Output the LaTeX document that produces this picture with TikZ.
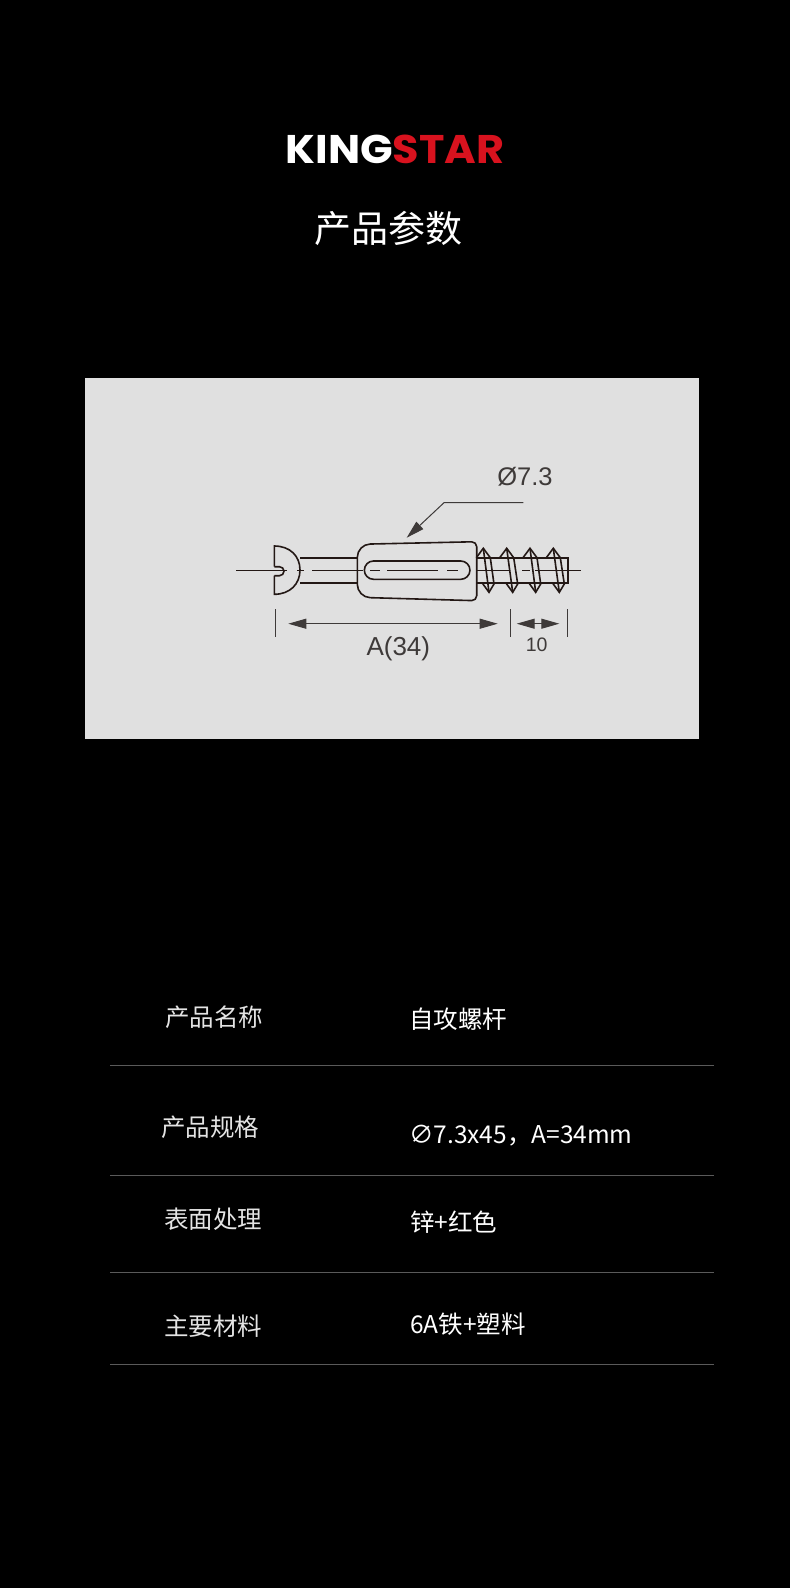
\documentclass[tikz,border=0pt]{standalone}
\usepackage{fontspec}
\usepackage{tikz}
\usetikzlibrary{arrows.meta}
\setmainfont{Liberation Sans}
\newfontfamily\cjkfont{Noto Sans CJK SC}
\newfontfamily\logofont{Poppins}[BoldFont=Poppins Bold]
\definecolor{panelgrey}{HTML}{E0E0E0}
\definecolor{partink}{HTML}{231815}
\definecolor{dimink}{HTML}{3E3A39}
\definecolor{logored}{HTML}{D8121E}
\definecolor{rowrule}{HTML}{5A5A5A}
\definecolor{keygrey}{HTML}{E4E4E4}
\tikzset{
  partline/.style={draw=partink, line width=1.6pt},
  centreline/.style={draw=partink, line width=1pt},
  dimline/.style={draw=dimink, line width=1pt},
  dimarrow/.style={dimline, {Triangle[length=18pt,width=10pt]}-{Triangle[length=18pt,width=10pt]}},
  rowtext/.style={text=white, inner sep=0pt, anchor=west, font=\cjkfont\fontsize{24.5}{24.5}\selectfont},
  rowkey/.style={rowtext, text=keygrey},
  rowrulestyle/.style={draw=rowrule, line width=1pt}
}
\begin{document}
\begin{tikzpicture}[x=1pt, y=-1pt]
\useasboundingbox (0,0) rectangle (790,1588);
\fill[black] (0,0) rectangle (790,1588);
\fill[panelgrey] (85,378) rectangle (699,739);
% logo and title
\node[inner sep=0pt, anchor=west, text=white, font=\logofont\bfseries\fontsize{40}{40}\selectfont] (LogoKing) at (285.5,149) {\scalebox{1.07}[1]{KING}};
\node[inner sep=0pt, anchor=west, text=logored, font=\logofont\bfseries\fontsize{40}{40}\selectfont] (LogoStar) at (392.5,149) {\scalebox{1.076}[1]{STAR}};
\node[inner sep=0pt, text=white, font=\cjkfont\fontsize{37}{37}\selectfont] (Title) at (388,228) {产品参数};
% bolt
\foreach \sa/\sb in {236/287, 297/304, 312/363, 370/380, 387/438, 447/458, 476/509, 522/530, 535/581}{
  \draw[centreline] (\sa,570) -- (\sb,570);
}
\draw[partline] (274.3,566.7) -- (274.3,546) .. controls (290,546) and (300,556) .. (300,570) .. controls (300,584) and (290,594.3) .. (274.3,594.3) -- (274.3,575.7);
\draw[partline] (274.3,566.7) -- (279.5,566.7) arc[start angle=90, end angle=-90, radius=4.5pt] -- (274.3,575.7);
\draw[partline] (300,557.7) -- (357.3,557.7);
\draw[partline] (300,582.7) -- (357.3,582.7);
\draw[partline, rounded corners=13pt] (357.3,570) -- (357.3,544.3) -- (417,543) [rounded corners=5pt] -- (476.7,541.7) -- (476.7,600.7) -- (417,599) [rounded corners=13pt] -- (357.3,597.3) -- (357.3,570);
\draw[partline] (373.5,561) -- (460.8,561) arc[start angle=90, end angle=-90, radius=9.15pt] -- (373.5,579.3) arc[start angle=270, end angle=90, radius=9.15pt];
\draw[partline] (476.7,557.7) -- (567.7,557.7) -- (567.7,582.7) -- (476.7,582.7);
\foreach \tx/\bx in {483.3/489, 506.7/512.7, 530/535.7, 553.3/559.3}{
  \draw[partline] (\tx-7,557.7) -- (\tx,548.3) -- (\tx+7,557.7) -- (\bx+5,584) -- (\bx,592.3) -- (\bx-7,582.7);
  \draw[partline] (\tx,548.3) -- (\bx,592.3);
}
% dimensions
\coordinate (LeaderStart) at (523.3,502.7);
\coordinate (LeaderBend) at (444,502.7);
\coordinate (LeaderEnd) at (406.7,537.7);
\draw[dimline, -{Triangle[length=18pt,width=10pt]}] (LeaderStart) -- (LeaderBend) -- (LeaderEnd);
\node[inner sep=0pt, text=dimink, font=\fontsize{25.5}{25.5}\selectfont] (DiaLabel) at (525,477) {Ø7.3};
\coordinate (TickA) at (275,609);
\coordinate (TickAEnd) at (275,637);
\coordinate (TickB) at (510.7,609);
\coordinate (TickBEnd) at (510.7,637);
\coordinate (TickC) at (567.3,609);
\coordinate (TickCEnd) at (567.3,637);
\draw[dimline] (TickA) -- (TickAEnd);
\draw[dimline] (TickB) -- (TickBEnd);
\draw[dimline] (TickC) -- (TickCEnd);
\coordinate (ArrowALeft) at (288.3,623.7);
\coordinate (ArrowARight) at (497.7,623.7);
\coordinate (ArrowBLeft) at (516.7,623.7);
\coordinate (ArrowBRight) at (559.3,623.7);
\draw[dimarrow] (ArrowALeft) -- (ArrowARight);
\draw[dimarrow] (ArrowBLeft) -- (ArrowBRight);
\node[inner sep=0pt, text=dimink, font=\fontsize{26}{26}\selectfont] (LengthLabel) at (398.3,648.5) {A(34)};
\node[inner sep=0pt, text=dimink, font=\fontsize{19.5}{19.5}\selectfont] (TipLabel) at (536.7,645) {10};
% table
\node[rowkey] (NameKey) at (165,1017) {产品名称};
\node[rowtext] (NameValue) at (409,1019) {自攻螺杆};
\node[rowkey] (SpecKey) at (161,1127) {产品规格};
\node[rowtext] (SpecValue) at (409,1136) {∅7.3x45，A=34mm};
\node[rowkey] (FinishKey) at (164,1219) {表面处理};
\node[rowtext] (FinishValue) at (410,1222) {锌+红色};
\node[rowkey] (MaterialKey) at (164,1326) {主要材料};
\node[rowtext] (MaterialValue) at (410,1324) {6A铁+塑料};
\foreach \ry/\rname in {1065.5/A, 1175.5/B, 1272/C, 1364/D}{
  \coordinate (Rule\rname L) at (110,\ry);
  \coordinate (Rule\rname R) at (714,\ry);
  \draw[rowrulestyle] (Rule\rname L) -- (Rule\rname R);
}
\end{tikzpicture}
\end{document}
